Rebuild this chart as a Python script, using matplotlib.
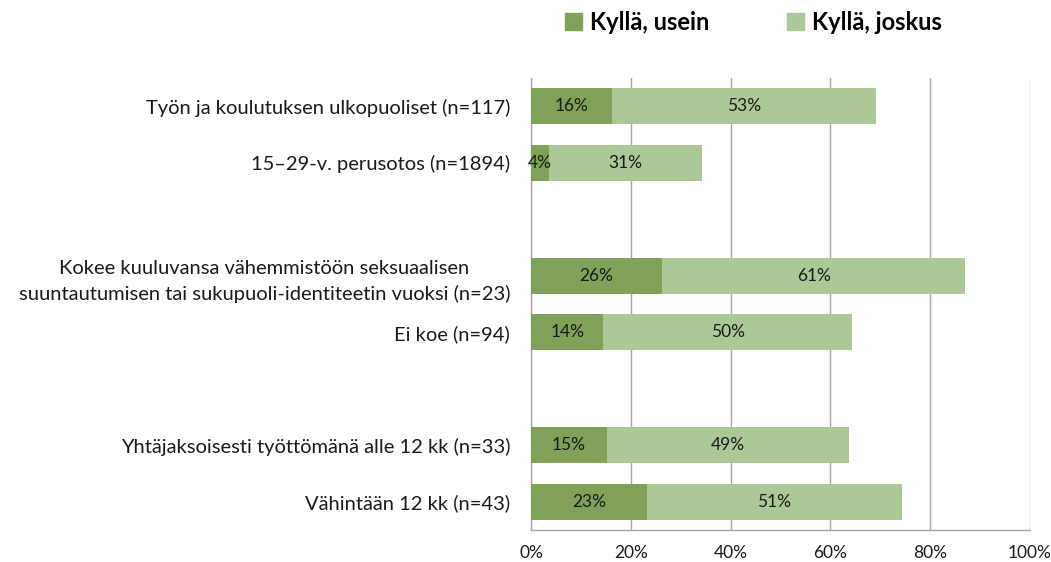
import numpy as np
import matplotlib
matplotlib.use("Agg")
import matplotlib.pyplot as plt
from matplotlib.patches import Patch

# data (top to bottom, None = empty row)
labels = ["Työn ja koulutuksen ulkopuoliset (n=117)",
          "15–29-v. perusotos (n=1894)",
          "",
          "Kokee kuuluvansa vähemmistöön seksuaalisen\nsuuntautumisen tai sukupuoli-identiteetin vuoksi (n=23)",
          "Ei koe (n=94)",
          "",
          "Yhtäjaksoisesti työttömänä alle 12 kk (n=33)",
          "Vähintään 12 kk (n=43)"]
usein = [16.2, 3.6, None, 26.3, 14.5, None, 15.2, 23.3]
joskus = [53.0, 30.7, None, 60.7, 49.8, None, 48.5, 51.0]
usein_txt = ["16%", "4%", "", "26%", "14%", "", "15%", "23%"]
joskus_txt = ["53%", "31%", "", "61%", "50%", "", "49%", "51%"]

c_usein = "#80A157"
c_joskus = "#ADC897"
grid_c = "#A6A6A6"

plt.rcParams['font.family'] = ['Lato', 'DejaVu Sans']

fig = plt.figure(figsize=(10.51, 5.62), dpi=100)
ax = fig.add_axes([0.5052, 0.0569, 0.4748, 0.8043])

for i in range(len(labels)):
    if usein[i] is None:
        continue
    ax.barh(i, usein[i], height=0.64, color=c_usein, zorder=3)
    ax.barh(i, joskus[i], left=usein[i], height=0.64, color=c_joskus, zorder=3)
    ax.text(usein[i] / 2, i, usein_txt[i], ha='center', va='center', fontsize=12.5, color='#1a1a1a', zorder=4)
    ax.text(usein[i] + joskus[i] / 2, i, joskus_txt[i], ha='center', va='center', fontsize=12.5, color='#1a1a1a', zorder=4)

ax.set_ylim(7.5, -0.5)
ax.set_xlim(0, 100)
ax.set_xticks(np.arange(0, 101, 20))
ax.set_xticklabels([f"{v}%" for v in range(0, 101, 20)], fontsize=12.5)
ax.set_yticks(range(len(labels)))
ax.set_yticklabels(labels, fontsize=14.5, multialignment='center')
for t in ax.get_yticklabels():
    t.set_linespacing(1.55)
ax.tick_params(axis='both', length=0, colors='#1a1a1a')
ax.tick_params(axis='x', pad=11)
ax.tick_params(axis='y', pad=15)
ax.xaxis.grid(True, color=grid_c, linewidth=1, zorder=0)
for s in ['top', 'right']:
    ax.spines[s].set_visible(False)
for s in ['left', 'bottom']:
    ax.spines[s].set_color(grid_c)
    ax.spines[s].set_linewidth(1)

handles = [Patch(color=c_usein, label="Kyllä, usein"), Patch(color=c_joskus, label="Kyllä, joskus")]
leg = fig.legend(handles=handles, loc='center', bbox_to_anchor=(0.717, 0.96), ncol=2, frameon=False,
                 prop={'weight': 'bold', 'size': 17}, handlelength=0.7, handleheight=0.7,
                 handletextpad=0.35, columnspacing=3.3)

fig.savefig("out.png", dpi=100)
